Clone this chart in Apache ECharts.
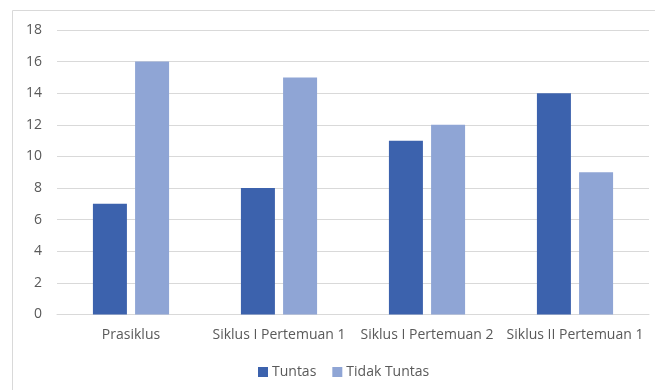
<!DOCTYPE html>
<html>
<head>
<meta charset="utf-8">
<script src="https://cdn.jsdelivr.net/npm/echarts@6/dist/echarts.min.js"></script>
<style>
  html, body { margin: 0; padding: 0; background: #fff; }
  #chart { width: 655px; height: 390px; }
</style>
</head>
<body>
<div id="chart"></div>
<script>
// Categories and values per group
const categories = ['Prasiklus', 'Siklus I Pertemuan 1', 'Siklus I Pertemuan 2', 'Siklus II Pertemuan 1'];
const tuntas = [7, 8, 11, 14];
const tidakTuntas = [16, 15, 12, 9];
const seriesNames = ['Tuntas', 'Tidak Tuntas'];

const textColor = '#595959';
const fontFamily = '"Open Sans", "Noto Sans", sans-serif';

const chart = echarts.init(document.getElementById('chart'), null, { renderer: 'canvas' });
chart.setOption({
  animation: false,
  textStyle: { fontFamily: fontFamily },
  graphic: [{
    type: 'rect',
    shape: { x: 12.5, y: 10.5, width: 660, height: 400 },
    style: { fill: 'none', stroke: '#d9d9d9', lineWidth: 1 },
    silent: true
  }],
  grid: { left: 57, right: 6, top: 30, bottom: 75.5, containLabel: false },
  legend: {
    data: seriesNames,
    bottom: 6,
    left: 253,
    itemWidth: 10,
    itemHeight: 10,
    itemGap: 16,
    icon: 'rect',
    textStyle: { color: textColor, fontSize: 14, fontFamily: fontFamily, padding: [0, 0, 0, -1] }
  },
  xAxis: {
    type: 'category',
    data: categories,
    axisLine: { lineStyle: { color: '#d9d9d9' } },
    axisTick: { show: false },
    axisLabel: { color: textColor, fontSize: 14, margin: 14, interval: 0, fontFamily: fontFamily }
  },
  yAxis: {
    type: 'value',
    min: 0,
    max: 18,
    interval: 2,
    axisLine: { show: false },
    axisTick: { show: false },
    splitLine: { lineStyle: { color: '#d9d9d9' } },
    axisLabel: { color: textColor, fontSize: 14, margin: 15, fontFamily: fontFamily }
  },
  series: [
    {
      name: seriesNames[0],
      type: 'bar',
      data: tuntas,
      barWidth: 34,
      barGap: '24%',
      itemStyle: { color: '#3C62AD' }
    },
    {
      name: seriesNames[1],
      type: 'bar',
      data: tidakTuntas,
      barWidth: 34,
      itemStyle: { color: '#8FA5D5' }
    }
  ]
});
</script>
</body>
</html>
